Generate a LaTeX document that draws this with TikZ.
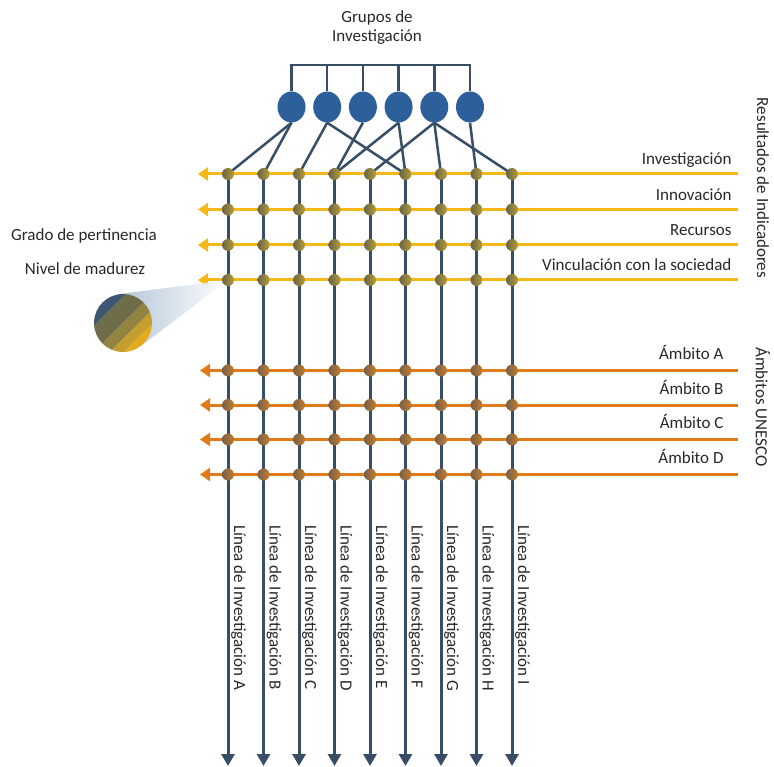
\documentclass[tikz,border=0pt]{standalone}
\usepackage{fontspec}
\setmainfont{Carlito}
\usetikzlibrary{arrows.meta,calc,shapes.geometric}
\definecolor{lineblue}{RGB}{55,78,102}
\definecolor{groupblue}{RGB}{45,95,154}
\definecolor{indyellow}{RGB}{244,185,25}
\definecolor{unescoorange}{RGB}{224,123,25}
\definecolor{knotdark}{RGB}{104,102,74}
\definecolor{knotlight}{RGB}{184,156,52}
\definecolor{knotodark}{RGB}{118,96,74}
\definecolor{knotolight}{RGB}{196,124,44}
\definecolor{conegrey}{RGB}{167,188,211}
\definecolor{lensblue}{RGB}{62,87,114}
\definecolor{lensolive}{RGB}{111,108,73}
\definecolor{lensmid}{RGB}{146,132,64}
\definecolor{lensgold}{RGB}{196,158,46}
\definecolor{lensyellow}{RGB}{228,172,28}
\definecolor{txt}{RGB}{40,40,40}
\begin{document}
\begin{tikzpicture}[x=1pt,y=-1pt,font=\fontsize{17}{19}\selectfont,text=txt]
\tikzstyle{vline}=[draw=lineblue,line width=3pt,-{Triangle[length=12pt,width=13pt]}]
\tikzstyle{yline}=[draw=indyellow,line width=3pt,-{Triangle[length=10pt,width=13pt]}]
\tikzstyle{oline}=[draw=unescoorange,line width=3pt,-{Triangle[length=10pt,width=13pt]}]
\tikzstyle{link}=[draw=lineblue,line width=2.5pt]
\tikzstyle{group}=[ellipse,fill=groupblue,minimum width=28pt,minimum height=31pt,inner sep=0pt]
\tikzstyle{knot}=[circle,inner sep=0pt,minimum size=12pt,shading angle=45]
\tikzstyle{label}=[anchor=base east,inner sep=0pt,xshift=-5pt,yshift=9pt]
\useasboundingbox (0,0) rectangle (774,767);
% grupos de investigacion
\node[align=center] (title) at (377,28) {Grupos de\\Investigación};
\coordinate (bar) at (0,65);
\foreach \i in {1,...,6}
  \node[group] (g\i) at ({291.5+35.7*(\i-1)},107) {};
\draw[link] (g1.north) |- (bar -| g6.north) -- (g6.north);
\foreach \i in {2,...,5}
  \draw[link] (g\i.north) -- (g\i.north |- bar);
% cruces
\foreach \c in {1,...,9}{
  \foreach \r/\y in {1/174,2/209.5,3/245,4/280,5/370.5,6/405,7/439.5,8/474.5}
    \coordinate (d-\r-\c) at ({228+35.5*(\c-1)},\y);
  \coordinate (e-\c) at ({228+35.5*(\c-1)},766);
}
\foreach \i/\c in {1/1,1/2,2/3,2/6,3/4,4/4,4/6,5/5,5/7,5/9,6/8}
  \draw[link] (g\i.south) -- (d-1-\c);
% lineas de investigacion
\foreach \c/\t in {1/A,2/B,3/C,4/D,5/E,6/F,7/G,8/H,9/I}{
  \path[vline] (d-1-\c) -- (e-\c);
  \node[rotate=-90,anchor=south west,inner sep=0pt,font=\fontsize{17}{19}\selectfont]
    (li-\c) at ($(d-1-\c|-0,525)+(3,0)$) {Línea de Investigación \t};
}
% resultados de indicadores
\foreach \r/\t in {1/Investigación,2/Innovación,3/Recursos,4/Vinculación con la sociedad}{
  \coordinate (r-\r) at (738,0|-d-\r-1);
  \coordinate (l-\r) at (198,0|-d-\r-1);
  \path[yline] (r-\r) -- (l-\r) node[label,at start] (t-\r) {\t};
}
% ambitos unesco
\foreach \r/\t in {5/A,6/B,7/C,8/D}{
  \coordinate (r-\r) at (738,0|-d-\r-1);
  \coordinate (l-\r) at (200,0|-d-\r-1);
  \path[yline,oline] (r-\r) -- (l-\r) node[label,at start,xshift=-8pt,yshift=2pt] (t-\r) {Ámbito \t};
}
\node[rotate=-90] (res) at (763,188) {Resultados de Indicadores};
\node[rotate=-90] (amb) at (763,407) {Ámbitos UNESCO};
% lupa
\node[circle,minimum size=58pt,inner sep=0pt] (lens) at (123,323) {};
\shade[left color=conegrey,right color=white,fill opacity=0.85]
  (tangent cs:node=lens,point={(d-4-1)},solution=1) -- (d-4-1)
  -- (tangent cs:node=lens,point={(d-4-1)},solution=2) -- cycle;
\begin{scope}
\clip (lens.center) circle (29);
\foreach \a/\b/\col in {380/420/lensblue,420/446/lensolive,446/462/lensmid,462/476/lensgold,476/530/lensyellow}
  \fill[\col] (60,{\a-60}) -- (200,{\a-200}) -- (200,{\b-200}) -- (60,{\b-60}) -- cycle;
\end{scope}
\node (grado) at (84,236) {Grado de pertinencia};
\node (nivel) at (85,269) {Nivel de madurez};
% nodos
\foreach \c in {1,...,9}{
  \foreach \r in {1,...,4}
    \node[knot,left color=knotdark,right color=knotlight] (k-\r-\c) at (d-\r-\c) {};
  \foreach \r in {5,...,8}
    \node[knot,left color=knotodark,right color=knotolight] (k-\r-\c) at (d-\r-\c) {};
}
\end{tikzpicture}
\end{document}
